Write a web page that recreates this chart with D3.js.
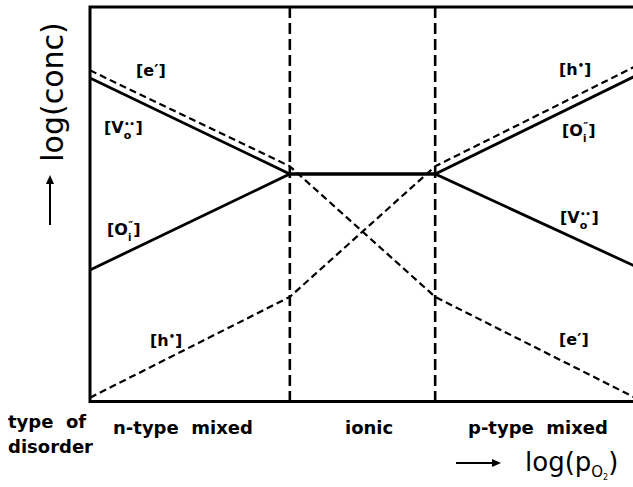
<!DOCTYPE html>
<html>
<head>
<meta charset="utf-8">
<script src="https://cdn.jsdelivr.net/npm/d3@7"></script>
<style>
  html, body { margin: 0; padding: 0; background: #fff; }
  svg { display: block; }
  text { fill: #000; }
</style>
</head>
<body>
<svg id="chart" width="633" height="487"></svg>
<script>
// Brouwer diagram for anti-Frenkel disorder: defect concentrations vs. oxygen partial pressure.
const regions = ["n-type mixed", "ionic", "p-type mixed"];
const logPO2 = [-3.75, -1, 1, 3.75];              // window edges and region boundaries
const electrons = [1.08, 0.08, -1.28, -2.33];      // log [e']
const holes = [-2.33, -1.28, 0.08, 1.12];          // log [h•]
const vacancies = [1.0, 0, 0, -0.96];              // log [V_O••]
const interstitials = [-1.0, 0, 0, 1.02];          // log [O_i″]

const svg = d3.select("#chart");
const font = "'DejaVu Sans', Verdana, sans-serif";

const x = d3.scaleLinear().domain([logPO2[0], logPO2[3]]).range([90, 635]);
const y = d3.scaleLinear().domain([-2.37, 1.74]).range([401.5, 7]);

// frame (the right side runs past the window)
svg.append("rect")
  .attr("x", x(logPO2[0])).attr("y", y(1.74))
  .attr("width", x(logPO2[3]) - x(logPO2[0]) + 4)
  .attr("height", y(-2.37) - y(1.74))
  .attr("fill", "none").attr("stroke", "#000").attr("stroke-width", 3);

// region boundaries
svg.selectAll("line.boundary")
  .data(logPO2.slice(1, 3))
  .join("line")
  .attr("class", "boundary")
  .attr("x1", d => x(d)).attr("x2", d => x(d))
  .attr("y1", y(1.74)).attr("y2", y(-2.37))
  .attr("stroke", "#000").attr("stroke-width", 2.6)
  .attr("stroke-dasharray", "11,5");

const series = [
  { name: "e", values: electrons, dashed: true },
  { name: "h", values: holes, dashed: true },
  { name: "V", values: vacancies, dashed: false },
  { name: "O", values: interstitials, dashed: false }
];

const line = d3.line().x(d => x(d[0])).y(d => y(d[1]));

svg.selectAll("path.species")
  .data(series)
  .join("path")
  .attr("class", "species")
  .attr("d", s => line(logPO2.map((p, i) => [p, s.values[i]])))
  .attr("fill", "none")
  .attr("stroke", "#000")
  .attr("stroke-width", s => s.dashed ? 2.2 : 2.8)
  .attr("stroke-dasharray", s => s.dashed ? "7,4" : null);

// species labels in Kröger–Vink notation
function kvLabel(px, py, parts) {
  const t = svg.append("text")
    .attr("x", px).attr("y", py)
    .attr("font-family", font).attr("font-weight", "bold")
    .attr("font-size", 16);
  parts.forEach(p => {
    const ts = t.append("tspan").text(p.t);
    if (p.size) ts.attr("font-size", p.size);
    if (p.dx) ts.attr("dx", p.dx);
    if (p.dy) ts.attr("dy", p.dy);
  });
}
const eLabel = [{ t: "[e\u2032]" }];
const hLabel = [{ t: "[h" }, { t: "\u2022", size: 10, dy: -6 }, { t: "]", dy: 6 }];
const vLabel = [{ t: "[V" }, { t: "o", size: 11, dx: 0, dy: 6 }, { t: "\u2022\u2022", size: 8, dx: -7, dy: -12 }, { t: "]", dx: 1, dy: 6 }];
const oLabel = [{ t: "[O" }, { t: "i", size: 10, dy: 6 }, { t: "\u2033", size: 11, dx: -3, dy: -12 }, { t: "]", dy: 6 }];

kvLabel(136, 76, eLabel);
kvLabel(104, 133, vLabel);
kvLabel(107, 235, oLabel);
kvLabel(150, 346, hLabel);
kvLabel(559, 75, hLabel);
kvLabel(562, 136, oLabel);
kvLabel(560, 223, vLabel);
kvLabel(559, 345, eLabel);

// region names
const regionStarts = [113, 345, 468];
svg.selectAll("text.region")
  .data(regions)
  .join("text")
  .attr("class", "region")
  .attr("x", (d, i) => regionStarts[i]).attr("y", 434)
  .attr("font-family", font).attr("font-weight", "bold").attr("font-size", 18)
  .style("white-space", "pre")
  .text(d => d.replace(" ", "  "));

svg.append("text").attr("x", 8).attr("y", 428)
  .attr("font-family", font).attr("font-weight", "bold").attr("font-size", 18)
  .style("white-space", "pre").text("type  of");
svg.append("text").attr("x", 8).attr("y", 453)
  .attr("font-family", font).attr("font-weight", "bold").attr("font-size", 18)
  .text("disorder");

// axis titles
svg.append("text")
  .attr("transform", "translate(63,92) rotate(-90)")
  .attr("text-anchor", "middle")
  .attr("font-family", font).attr("font-size", 30)
  .text("log(conc)");

const px = svg.append("text").attr("x", 525).attr("y", 471)
  .attr("font-family", font).attr("font-size", 26);
px.append("tspan").text("log(p");
px.append("tspan").attr("font-size", 15).attr("dy", 6).text("O");
px.append("tspan").attr("font-size", 8).attr("dy", 3).text("2");
px.append("tspan").attr("dy", -9).text(")");

// arrows
function arrow(x1, y1, x2, y2) {
  const a = Math.atan2(y2 - y1, x2 - x1), L = 9, W = 4;
  const bx = x2 - L * Math.cos(a), by = y2 - L * Math.sin(a);
  svg.append("line").attr("x1", x1).attr("y1", y1).attr("x2", bx).attr("y2", by)
    .attr("stroke", "#000").attr("stroke-width", 2);
  svg.append("path")
    .attr("d", `M${x2},${y2}L${bx - W * Math.sin(a)},${by + W * Math.cos(a)}L${bx + W * Math.sin(a)},${by - W * Math.cos(a)}Z`)
    .attr("fill", "#000");
}
arrow(50, 225, 50, 175);
arrow(456, 463, 501, 463);
</script>
</body>
</html>
